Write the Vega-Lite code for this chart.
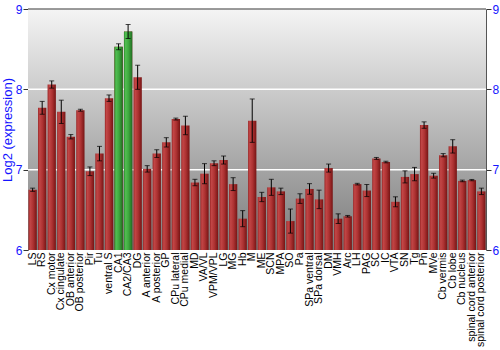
{
  "$schema": "https://vega.github.io/schema/vega-lite/v6.json",
  "width": 458,
  "height": 241,
  "autosize": {"type": "none"},
  "padding": {"left": 28, "top": 9, "right": 14, "bottom": 100},
  "background": "white",
  "config": {
    "view": {"stroke": null},
    "font": "Liberation Sans"
  },
  "datasets": {
    "expr": [
      {"region": "LS", "value": 6.75, "err": 0.02, "hl": "no"},
      {"region": "RS", "value": 7.77, "err": 0.08, "hl": "no"},
      {"region": "Cx motor", "value": 8.06, "err": 0.045, "hl": "no"},
      {"region": "Cx cingulate", "value": 7.72, "err": 0.145, "hl": "no"},
      {"region": "OB anterior", "value": 7.41, "err": 0.027, "hl": "no"},
      {"region": "OB posterior", "value": 7.74, "err": 0.012, "hl": "no"},
      {"region": "Pir", "value": 6.98, "err": 0.054, "hl": "no"},
      {"region": "Tu", "value": 7.2, "err": 0.09, "hl": "no"},
      {"region": "ventral S", "value": 7.89, "err": 0.04, "hl": "no"},
      {"region": "CA1", "value": 8.53, "err": 0.037, "hl": "yes"},
      {"region": "CA2/CA3", "value": 8.72, "err": 0.087, "hl": "yes"},
      {"region": "DG", "value": 8.15, "err": 0.15, "hl": "no"},
      {"region": "A anterior", "value": 7.01, "err": 0.04, "hl": "no"},
      {"region": "A posterior", "value": 7.2, "err": 0.048, "hl": "no"},
      {"region": "GP", "value": 7.34, "err": 0.058, "hl": "no"},
      {"region": "CPu lateral", "value": 7.63, "err": 0.012, "hl": "no"},
      {"region": "CPu medial", "value": 7.55, "err": 0.115, "hl": "no"},
      {"region": "MD", "value": 6.84, "err": 0.04, "hl": "no"},
      {"region": "VA/VL", "value": 6.95, "err": 0.125, "hl": "no"},
      {"region": "VPM/VPL", "value": 7.08, "err": 0.03, "hl": "no"},
      {"region": "LG", "value": 7.12, "err": 0.05, "hl": "no"},
      {"region": "MG", "value": 6.82, "err": 0.08, "hl": "no"},
      {"region": "Hb", "value": 6.39, "err": 0.1, "hl": "no"},
      {"region": "M", "value": 7.61, "err": 0.27, "hl": "no"},
      {"region": "ME", "value": 6.66, "err": 0.058, "hl": "no"},
      {"region": "SCN", "value": 6.78, "err": 0.1, "hl": "no"},
      {"region": "MPA", "value": 6.73, "err": 0.04, "hl": "no"},
      {"region": "SO", "value": 6.36, "err": 0.15, "hl": "no"},
      {"region": "Pa", "value": 6.64, "err": 0.06, "hl": "no"},
      {"region": "SPa ventral", "value": 6.76, "err": 0.066, "hl": "no"},
      {"region": "SPa dorsal", "value": 6.63, "err": 0.115, "hl": "no"},
      {"region": "DM", "value": 7.02, "err": 0.05, "hl": "no"},
      {"region": "VMH", "value": 6.39, "err": 0.06, "hl": "no"},
      {"region": "Arc", "value": 6.42, "err": 0.01, "hl": "no"},
      {"region": "LH", "value": 6.82, "err": 0.01, "hl": "no"},
      {"region": "PAG", "value": 6.74, "err": 0.075, "hl": "no"},
      {"region": "SC", "value": 7.14, "err": 0.012, "hl": "no"},
      {"region": "IC", "value": 7.095, "err": 0.01, "hl": "no"},
      {"region": "VTA", "value": 6.6, "err": 0.062, "hl": "no"},
      {"region": "SN", "value": 6.91, "err": 0.075, "hl": "no"},
      {"region": "Tg", "value": 6.945, "err": 0.083, "hl": "no"},
      {"region": "Pn", "value": 7.555, "err": 0.04, "hl": "no"},
      {"region": "MVe", "value": 6.925, "err": 0.03, "hl": "no"},
      {"region": "Cb vermis", "value": 7.18, "err": 0.02, "hl": "no"},
      {"region": "Cb lobe", "value": 7.29, "err": 0.083, "hl": "no"},
      {"region": "Cb nucleus", "value": 6.86, "err": 0.01, "hl": "no"},
      {"region": "spinal cord anterior", "value": 6.87, "err": 0.008, "hl": "no"},
      {"region": "spinal cord posterior", "value": 6.73, "err": 0.04, "hl": "no"}
    ],
    "grid": [{"g": 7}, {"g": 8}],
    "frame": [{"top": 9, "bottom": 6}]
  },
  "resolve": {"axis": {"y": "independent"}},
  "layer": [
    {
      "data": {"name": "frame"},
      "mark": {
        "type": "rect",
        "color": {
          "gradient": "linear", "x1": 0, "y1": 0, "x2": 0, "y2": 1,
          "stops": [
            {"offset": 0, "color": "#f4f4f4"},
            {"offset": 1, "color": "#7c7c7c"}
          ]
        }
      },
      "encoding": {
        "y": {"field": "top", "type": "quantitative", "scale": {"domain": [6, 9], "nice": false, "zero": false}, "axis": null},
        "y2": {"field": "bottom"}
      }
    },
    {
      "data": {"name": "grid"},
      "mark": {"type": "rule", "color": "white", "strokeWidth": 1.5},
      "encoding": {
        "y": {
          "field": "g", "type": "quantitative",
          "scale": {"domain": [6, 9], "nice": false, "zero": false},
          "axis": {
            "orient": "right", "title": null, "values": [6, 7, 8, 9],
            "domainColor": "#555555", "domainWidth": 1,
            "tickColor": "#333333", "tickSize": 5, "labelPadding": 1,
            "labelColor": "#1515ff", "labelFontSize": 12, "grid": false
          }
        }
      }
    },
    {
      "data": {"name": "frame"},
      "mark": {"type": "rule", "color": "#7a7a7a", "strokeWidth": 1.5},
      "encoding": {
        "y": {"field": "top", "type": "quantitative", "scale": {"domain": [6, 9], "nice": false, "zero": false}, "axis": null}
      }
    },
    {
      "data": {"name": "expr"},
      "mark": {
        "type": "bar",
        "color": {
          "gradient": "linear", "x1": 0, "y1": 0, "x2": 1, "y2": 0,
          "stops": [
            {"offset": 0, "color": "#9a2626"},
            {"offset": 0.2, "color": "#c24646"},
            {"offset": 0.55, "color": "#ad3232"},
            {"offset": 1, "color": "#761414"}
          ]
        }
      },
      "encoding": {
        "x": {
          "field": "region", "type": "nominal", "sort": null,
          "scale": {"paddingInner": 0.13, "paddingOuter": 0.05},
          "axis": {
            "title": null, "labelAngle": -90, "ticks": false, "domain": false,
            "labelPadding": 2, "labelFontSize": 10.5, "labelColor": "black",
            "labelLimit": 0, "labelOverlap": false
          }
        },
        "y": {
          "field": "value", "type": "quantitative",
          "scale": {"domain": [6, 9], "nice": false, "zero": false},
          "axis": {
            "orient": "left", "title": "Log2 (expression)", "values": [6, 7, 8, 9],
            "titleColor": "#1515ff", "titleFontSize": 13, "titleFontWeight": "normal",
            "titlePadding": 1,
            "domainColor": "#555555", "domainWidth": 1,
            "tickColor": "#333333", "tickSize": 5, "labelPadding": 1,
            "labelColor": "#1515ff", "labelFontSize": 12, "grid": false
          }
        },
        "y2": {"datum": 6}
      }
    },
    {
      "data": {"name": "expr"},
      "transform": [{"filter": "datum.hl == 'yes'"}],
      "mark": {
        "type": "bar",
        "color": {
          "gradient": "linear", "x1": 0, "y1": 0, "x2": 1, "y2": 0,
          "stops": [
            {"offset": 0, "color": "#2c8c2c"},
            {"offset": 0.2, "color": "#52be52"},
            {"offset": 0.55, "color": "#3ea83e"},
            {"offset": 1, "color": "#226c22"}
          ]
        }
      },
      "encoding": {
        "x": {"field": "region", "type": "nominal", "sort": null},
        "y": {"field": "value", "type": "quantitative", "scale": {"domain": [6, 9], "nice": false, "zero": false}, "axis": null},
        "y2": {"datum": 6}
      }
    },
    {
      "data": {"name": "expr"},
      "mark": {"type": "errorbar", "color": "black", "ticks": {"size": 5, "color": "black"}, "rule": {"strokeWidth": 1}},
      "encoding": {
        "x": {"field": "region", "type": "nominal", "sort": null},
        "y": {"field": "value", "type": "quantitative", "scale": {"domain": [6, 9], "nice": false, "zero": false}, "axis": null},
        "yError": {"field": "err"}
      }
    }
  ]
}
